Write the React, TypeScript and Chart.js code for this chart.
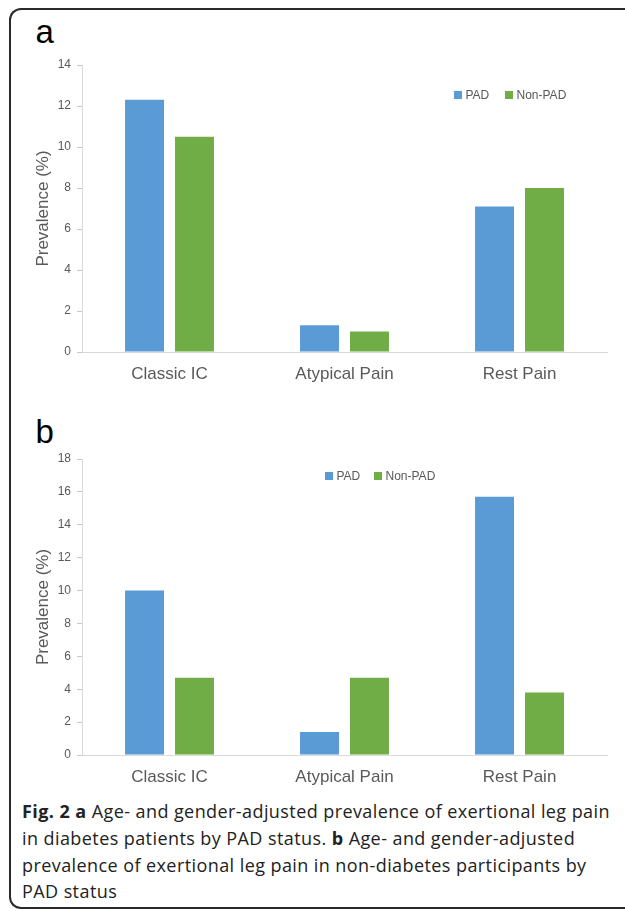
import React, { useEffect, useRef } from 'react';
import { Chart, registerables } from 'chart.js';

Chart.register(...registerables);

// ---- data ----
const categories = ['Classic IC', 'Atypical Pain', 'Rest Pain'];
const seriesLabels = ['PAD', 'Non-PAD'];
// panel a: diabetes patients
const padDiabetes = [12.3, 1.3, 7.1];
const nonPadDiabetes = [10.5, 1.0, 8.0];
// panel b: non-diabetes participants
const padNonDiabetes = [10.0, 1.4, 15.7];
const nonPadNonDiabetes = [4.7, 4.7, 3.8];
const yMaxA = 14;
const yMaxB = 18;
const yStep = 2;
const yTitle = 'Prevalence (%)';

const BLUE = '#5b9bd5';
const GREEN = '#70ad47';
const FONT = "'Liberation Sans', Arial, Helvetica, sans-serif";
const TEXT = '#595959';

type PanelProps = { top: number; height: number; pad: number[]; nonPad: number[]; yMax: number };

function BarPanel({ top, height, pad, nonPad, yMax }: PanelProps) {
  const ref = useRef<HTMLCanvasElement>(null);
  useEffect(() => {
    const chart = new Chart(ref.current as HTMLCanvasElement, {
      type: 'bar',
      data: {
        labels: categories,
        datasets: [
          { label: seriesLabels[0], data: pad, backgroundColor: BLUE, categoryPercentage: 0.571, barPercentage: 0.78 },
          { label: seriesLabels[1], data: nonPad, backgroundColor: GREEN, categoryPercentage: 0.571, barPercentage: 0.78 },
        ],
      },
      options: {
        responsive: false,
        animation: false,
        layout: { padding: { left: 0, right: 18, top: 20, bottom: 4 } },
        plugins: { legend: { display: false }, tooltip: { enabled: false } },
        scales: {
          x: {
            grid: { drawOnChartArea: false, drawTicks: false },
            border: { color: '#d9d9d9', width: 1 },
            ticks: { color: TEXT, font: { family: FONT, size: 17 }, padding: 12 },
            afterFit: (s: any) => { s.height = 31; },
          },
          y: {
            min: 0,
            max: yMax,
            ticks: { stepSize: yStep, color: TEXT, font: { family: FONT, size: 12 }, padding: 6 },
            grid: { drawOnChartArea: false, drawTicks: true, tickLength: 5, color: '#c8c8c8' },
            border: { color: '#d9d9d9', width: 1 },
            title: {
              display: true,
              text: yTitle,
              color: TEXT,
              font: { family: FONT, size: 17 },
              padding: { top: 33, bottom: 0 },
            },
            afterFit: (s: any) => { s.width = 82; },
          },
        },
      },
    } as any);
    return () => chart.destroy();
  }, []);
  return (
    <canvas
      ref={ref}
      width={625}
      height={height}
      style={{ position: 'absolute', left: 0, top, width: 625, height }}
    />
  );
}

function Legend({ top, x1, x2 }: { top: number; x1: number; x2: number }) {
  const item = (x: number, color: string, label: string) => (
    <div style={{ position: 'absolute', left: x, top, height: 12, whiteSpace: 'nowrap' }}>
      <div style={{ position: 'absolute', left: 0, top: 2, width: 8, height: 8, background: color }} />
      <div style={{ position: 'absolute', left: 11.5, top: 0, fontFamily: FONT, fontSize: 12, lineHeight: '12px', color: TEXT }}>
        {label}
      </div>
    </div>
  );
  return (
    <>
      {item(x1, BLUE, seriesLabels[0])}
      {item(x2, GREEN, seriesLabels[1])}
    </>
  );
}

export default function App() {
  const panelLabel = (text: string, top: number) => (
    <div style={{ position: 'absolute', left: 35.5, top, fontFamily: FONT, fontSize: 33, lineHeight: '33px', color: '#000' }}>
      {text}
    </div>
  );
  return (
    <div style={{ position: 'absolute', left: 0, top: 0, width: 625, height: 911, overflow: 'hidden', background: '#fff' }}>
      <div
        style={{
          position: 'absolute', left: 9, top: 8, width: 640, height: 901,
          borderTop: '2px solid #2a2a2a', borderLeft: '2px solid #2a2a2a', borderBottom: '2px solid #2a2a2a',
          borderTopLeftRadius: 12, borderBottomLeftRadius: 12, boxSizing: 'border-box',
        }}
      />
      {panelLabel('a', 14.8)}
      <BarPanel top={45} height={342} pad={padDiabetes} nonPad={nonPadDiabetes} yMax={yMaxA} />
      <Legend top={89} x1={454} x2={505} />
      {panelLabel('b', 414.8)}
      <BarPanel top={439} height={351} pad={padNonDiabetes} nonPad={nonPadNonDiabetes} yMax={yMaxB} />
      <Legend top={470} x1={325} x2={374} />
      <div
        style={{
          position: 'absolute', left: 22, top: 798.4, fontFamily: "'Open Sans', sans-serif", fontSize: 18,
          letterSpacing: '0.42px', lineHeight: '26.6px', color: '#222', whiteSpace: 'nowrap',
        }}
      >
        <div><b>Fig. 2</b> <b>a</b> Age- and gender-adjusted prevalence of exertional leg pain</div>
        <div>in diabetes patients by PAD status. <b>b</b> Age- and gender-adjusted</div>
        <div>prevalence of exertional leg pain in non-diabetes participants by</div>
        <div>PAD status</div>
      </div>
    </div>
  );
}
